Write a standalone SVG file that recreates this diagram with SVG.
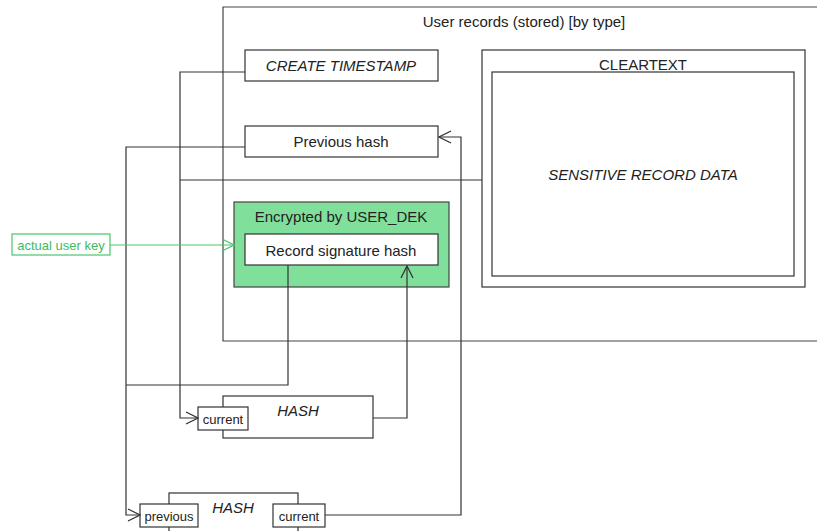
<svg xmlns="http://www.w3.org/2000/svg" width="817" height="531" viewBox="0 0 817 531">
  <defs>
    <style>
      .box { fill: #ffffff; stroke: #333333; stroke-width: 1.2; }
      .frame { fill: none; stroke: #444444; stroke-width: 1.2; }
      .line { fill: none; stroke: #333333; stroke-width: 1.2; }
      .green { fill: none; stroke: #4cc56a; stroke-width: 1.2; }
      text { font-family: "Liberation Sans", Arial, sans-serif; font-size: 15px; fill: #222222; text-anchor: middle; dominant-baseline: central; }
      .it { font-style: italic; }
      .port { font-size: 13px; }
      .gt { fill: #3dbb5e; font-size: 13px; }
    </style>
    <marker id="open" viewBox="0 0 14 14" refX="13" refY="7" markerWidth="14" markerHeight="14" markerUnits="userSpaceOnUse" orient="auto">
      <path d="M1,1 L13,7 L1,13" fill="none" stroke="#333333" stroke-width="1.3"/>
    </marker>
    <marker id="openG" viewBox="0 0 14 14" refX="13" refY="7" markerWidth="14" markerHeight="14" markerUnits="userSpaceOnUse" orient="auto">
      <path d="M1,1 L13,7 L1,13" fill="none" stroke="#4cc56a" stroke-width="1.3"/>
    </marker>
  </defs>

  <!-- outer container of stored user records -->
  <g id="user-records">
    <path class="frame" d="M817,7 H223 V341 H817"/>
    <text x="524" y="21">User records (stored) [by type]</text>
  </g>

  <g id="create-timestamp">
    <rect class="box" x="245" y="50" width="193" height="31"/>
    <text class="it" x="341" y="65">CREATE TIMESTAMP</text>
  </g>

  <g id="previous-hash">
    <rect class="box" x="245" y="126" width="193" height="31"/>
    <text x="341" y="141">Previous hash</text>
  </g>

  <g id="cleartext">
    <rect class="box" x="482" y="50" width="323" height="237"/>
    <text x="643" y="64">CLEARTEXT</text>
    <rect class="box" x="492" y="72" width="302" height="204" stroke-width="1.5"/>
    <text class="it" x="643" y="174">SENSITIVE RECORD DATA</text>
  </g>

  <g id="encrypted">
    <rect x="234" y="202" width="215" height="85" fill="#80e09b" stroke="#444444" stroke-width="1.2"/>
    <text x="341" y="216">Encrypted by USER_DEK</text>
    <rect class="box" x="245" y="234" width="193" height="31"/>
    <text x="341" y="250">Record signature hash</text>
  </g>

  <g id="user-key">
    <rect x="12" y="234" width="98" height="21" fill="#ffffff" stroke="#4cc56a" stroke-width="1.2"/>
    <text class="gt" x="61" y="245">actual user key</text>
  </g>

  <g id="hash-current">
    <rect class="box" x="223" y="396" width="150" height="42"/>
    <text class="it" x="298" y="410">HASH</text>
    <rect class="box" x="198" y="407" width="50" height="23"/>
    <text class="port" x="223" y="419">current</text>
  </g>

  <g id="hash-chain">
    <rect class="box" x="169" y="493" width="129" height="45"/>
    <text class="it" x="233" y="507">HASH</text>
    <rect class="box" x="140" y="504" width="58" height="23"/>
    <text class="port" x="169" y="516">previous</text>
    <rect class="box" x="273" y="504" width="52" height="23"/>
    <text class="port" x="299" y="516">current</text>
  </g>

  <g id="connectors">
    <!-- timestamp and cleartext feed the current hash -->
    <path class="line" d="M245,72 H180 V418 H198" marker-end="url(#open)"/>
    <path class="line" d="M482,180 H180"/>
    <!-- previous hash and signature feed the chain hash -->
    <path class="line" d="M245,147 H126 V515 H140" marker-end="url(#open)"/>
    <path class="line" d="M288,265 V385 H126"/>
    <!-- current hash result stored as signature -->
    <path class="line" d="M373,418 H407 V266" marker-end="url(#open)"/>
    <!-- chain hash result stored as previous hash -->
    <path class="line" d="M325,515 H461 V137 H439" marker-end="url(#open)"/>
    <!-- user key encrypts the signature -->
    <path class="green" d="M110,245 H234" marker-end="url(#openG)"/>
  </g>
</svg>
